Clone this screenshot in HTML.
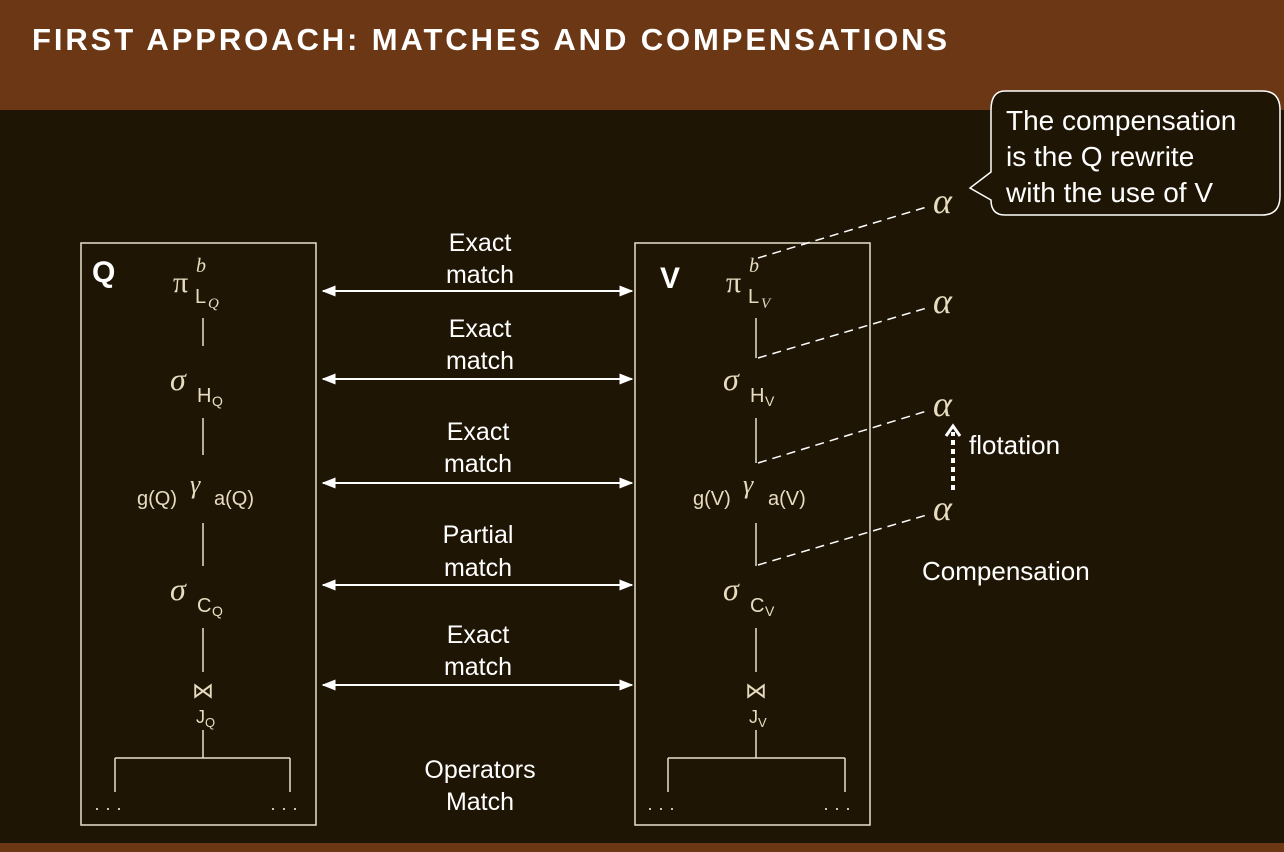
<!DOCTYPE html>
<html><head><meta charset="utf-8"><style>
html,body{margin:0;padding:0;background:#1f1505;}
svg{display:block;}
.h{font-family:"Liberation Sans",sans-serif;font-weight:bold;fill:#fff;}
.t{font-family:"Liberation Sans",sans-serif;fill:#fff;font-size:25px;text-anchor:middle;}
.l{font-family:"Liberation Sans",sans-serif;fill:#fff;font-size:26px;text-anchor:start;}
.m{font-family:"Liberation Serif",serif;fill:#e8dcc0;}
.s{font-family:"Liberation Sans",sans-serif;fill:#e8dcc0;}
</style></head><body>
<svg width="1284" height="852" viewBox="0 0 1284 852" xmlns="http://www.w3.org/2000/svg">
<defs>
<marker id="a" viewBox="0 0 10 10" refX="9" refY="5" markerWidth="7" markerHeight="7" orient="auto-start-reverse"><path d="M0,1 L10,5 L0,9 z" fill="#fff"/></marker>
</defs>
<rect x="0" y="0" width="1284" height="110" fill="#6b3714"/>
<rect x="0" y="843" width="1284" height="9" fill="#6b3714"/>
<text class="h" x="32" y="50" font-size="31" letter-spacing="2.9">FIRST APPROACH: MATCHES AND COMPENSATIONS</text>

<g fill="none" stroke="#e8e0cc" stroke-width="1.5">
<rect x="81" y="243" width="235" height="582"/>
<rect x="635" y="243" width="235" height="582"/>
<path d="M203 318V346M203 418V455M203 523V566M203 628V672M203 730V758M115 758H290M115 758V792M290 758V792"/>
<path d="M756 318V358M756 418V463M756 523V566M756 628V672M756 730V758M668 758H845M668 758V792M845 758V792"/>
</g>
<text class="h" x="92" y="282" font-size="30">Q</text>
<text class="h" x="660" y="288" font-size="30">V</text>

<g>
<text class="m" x="173" y="292" font-size="30">π</text><text class="m" x="196" y="272" font-size="20" font-style="italic">b</text>
<text class="s" x="195" y="303" font-size="20">L</text><text class="m" x="208" y="308" font-size="15" font-style="italic">Q</text>
<text class="m" x="170" y="390" font-size="32" font-style="italic">σ</text><text class="s" x="197" y="402" font-size="20">H</text><text class="s" x="212" y="406" font-size="14">Q</text>
<text class="s" x="137" y="505" font-size="20">g(Q)</text><text class="m" x="190" y="493" font-size="26" font-style="italic">γ</text><text class="s" x="214" y="505" font-size="20">a(Q)</text>
<text class="m" x="170" y="600" font-size="32" font-style="italic">σ</text><text class="s" x="197" y="612" font-size="20">C</text><text class="s" x="212" y="616" font-size="14">Q</text>
<text class="s" x="203" y="698" font-size="22" text-anchor="middle">⋈</text>
<text class="s" x="196" y="723" font-size="18">J</text><text class="s" x="205" y="727" font-size="13">Q</text>
<text class="s" x="94" y="814" font-size="18">· · ·</text><text class="s" x="270" y="814" font-size="18">· · ·</text>
</g>
<g>
<text class="m" x="726" y="292" font-size="30">π</text><text class="m" x="749" y="272" font-size="20" font-style="italic">b</text>
<text class="s" x="748" y="303" font-size="20">L</text><text class="m" x="761" y="308" font-size="15" font-style="italic">V</text>
<text class="m" x="723" y="390" font-size="32" font-style="italic">σ</text><text class="s" x="750" y="402" font-size="20">H</text><text class="s" x="765" y="406" font-size="14">V</text>
<text class="s" x="693" y="505" font-size="20">g(V)</text><text class="m" x="743" y="493" font-size="26" font-style="italic">γ</text><text class="s" x="768" y="505" font-size="20">a(V)</text>
<text class="m" x="723" y="600" font-size="32" font-style="italic">σ</text><text class="s" x="750" y="612" font-size="20">C</text><text class="s" x="765" y="616" font-size="14">V</text>
<text class="s" x="756" y="698" font-size="22" text-anchor="middle">⋈</text>
<text class="s" x="749" y="723" font-size="18">J</text><text class="s" x="758" y="727" font-size="13">V</text>
<text class="s" x="647" y="814" font-size="18">· · ·</text><text class="s" x="823" y="814" font-size="18">· · ·</text>
</g>

<g stroke="#fff" stroke-width="2" marker-start="url(#a)" marker-end="url(#a)">
<line x1="323" y1="291" x2="632" y2="291"/>
<line x1="323" y1="379" x2="632" y2="379"/>
<line x1="323" y1="483" x2="632" y2="483"/>
<line x1="323" y1="585" x2="632" y2="585"/>
<line x1="323" y1="685" x2="632" y2="685"/>
</g>
<text class="t" x="480" y="251">Exact</text><text class="t" x="480" y="283">match</text>
<text class="t" x="480" y="337">Exact</text><text class="t" x="480" y="369">match</text>
<text class="t" x="478" y="440">Exact</text><text class="t" x="478" y="472">match</text>
<text class="t" x="478" y="543">Partial</text><text class="t" x="478" y="576">match</text>
<text class="t" x="478" y="643">Exact</text><text class="t" x="478" y="675">match</text>
<text class="t" x="480" y="778">Operators</text><text class="t" x="480" y="810">Match</text>

<g stroke="#fff" stroke-width="1.5" stroke-dasharray="9,6" fill="none">
<line x1="758" y1="258" x2="930" y2="206"/>
<line x1="758" y1="358" x2="930" y2="307"/>
<line x1="758" y1="463" x2="930" y2="410"/>
<line x1="758" y1="565" x2="930" y2="514"/>
</g>
<text class="m" x="933" y="213" font-size="36" font-style="italic">α</text>
<text class="m" x="933" y="313" font-size="36" font-style="italic">α</text>
<text class="m" x="933" y="416" font-size="36" font-style="italic">α</text>
<text class="m" x="933" y="520" font-size="36" font-style="italic">α</text>
<line x1="953" y1="490" x2="953" y2="432" stroke="#fff" stroke-width="4" stroke-dasharray="5,4"/>
<path d="M946 436 L953 426 L960 436" stroke="#fff" stroke-width="3" fill="none"/>
<text class="l" x="969" y="454">flotation</text>
<text class="l" x="922" y="580">Compensation</text>

<path d="M1005 91 H1262 Q1280 91 1280 110 V196 Q1280 215 1262 215 H1005 Q991 215 991 200 L970 188 L991 172 V110 Q991 91 1005 91 Z" fill="#1f1505" stroke="#fff" stroke-width="1.5"/>
<text class="l" x="1006" y="130" style="font-size:28px">The compensation</text>
<text class="l" x="1006" y="166" style="font-size:28px">is the Q rewrite</text>
<text class="l" x="1006" y="202" style="font-size:28px">with the use of V</text>
</svg>
</body></html>
